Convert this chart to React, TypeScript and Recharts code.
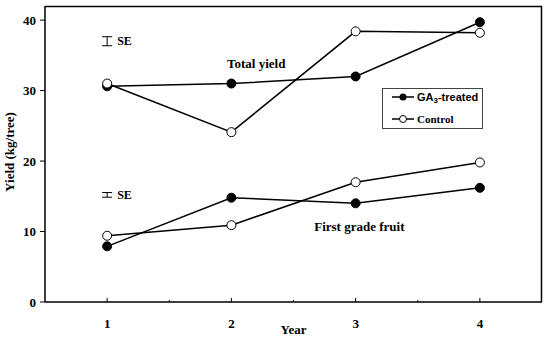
import {
  ComposedChart,
  Line,
  Scatter,
  ErrorBar,
  XAxis,
  YAxis,
  ReferenceDot,
} from "recharts";

// yield per tree (kg), by year
const years = [1, 2, 3, 4];
const totalGA3 = [30.6, 31.0, 32.0, 39.7];
const totalControl = [31.0, 24.1, 38.4, 38.2];
const firstGA3 = [7.9, 14.8, 14.0, 16.2];
const firstControl = [9.4, 10.9, 17.0, 19.8];

// standard error markers, drawn at year 1
const seLevels = [37.0, 15.2];
const seErrors = [0.64, 0.33];

const xTicks = [1, 1.5, 2, 2.5, 3, 3.5, 4];
const yTicks = [0, 10, 20, 30, 40];
const xDomain = [0.5, 4.5];
const yDomain = [0, 42];

const SERIF = '"Liberation Serif", "Times New Roman", serif';
const SANS = '"Liberation Sans", Arial, sans-serif';

const data = years.map((year, i) => ({
  year,
  totalGA3: totalGA3[i],
  totalControl: totalControl[i],
  firstGA3: firstGA3[i],
  firstControl: firstControl[i],
}));

const seData = seLevels.map((se, i) => ({ year: 1, se, err: seErrors[i] }));

const FilledDot = (props: any) => {
  const { cx, cy } = props;
  if (cx == null || cy == null) return null;
  return <circle cx={cx} cy={cy} r={4.5} fill="#000" stroke="#000" strokeWidth={1} />;
};

const OpenDot = (props: any) => {
  const { cx, cy } = props;
  if (cx == null || cy == null) return null;
  return <circle cx={cx} cy={cy} r={4.5} fill="#fff" stroke="#000" strokeWidth={1} />;
};

// inward ticks on the year axis, labels only on whole years
const YearTick = (props: any) => {
  const { x, y, payload } = props;
  const major = Number.isInteger(payload.value);
  return (
    <g>
      <line x1={x} y1={y} x2={x} y2={y - (major ? 4 : 2)} stroke="#000" strokeWidth={1} />
      {major && (
        <text x={x} y={y + 26} textAnchor="middle" fontFamily={SERIF} fontWeight="bold" fontSize={13} fill="#000">
          {payload.value}
        </text>
      )}
    </g>
  );
};

const lineProps = {
  type: "linear" as const,
  stroke: "#000",
  strokeWidth: 1.5,
  isAnimationActive: false,
  activeDot: false,
  legendType: "none" as const,
};

const noteLabel = (text: string, size = 13) => ({
  value: text,
  position: "center" as const,
  fontFamily: SERIF,
  fontWeight: "bold",
  fontSize: size,
  fill: "#000",
});

const frameLine = { stroke: "#000", strokeWidth: 1.5 };

export default function App() {
  return (
    <div style={{ position: "absolute", left: 0, top: 0, width: 547, height: 337, background: "#fff" }}>
      <ComposedChart width={547} height={337} data={data} margin={{ top: 6, right: 5, bottom: 0, left: 0 }}>
        <XAxis
          dataKey="year"
          type="number"
          domain={xDomain}
          ticks={xTicks}
          interval={0}
          height={35}
          tickSize={0}
          tickMargin={0}
          tickLine={false}
          axisLine={frameLine}
          tick={<YearTick />}
          label={{
            content: () => (
              <text x={293.5} y={334} textAnchor="middle" fontFamily={SERIF} fontWeight="bold" fontSize={13} fill="#000">
                Year
              </text>
            ),
          }}
        />
        <YAxis
          type="number"
          domain={yDomain}
          ticks={yTicks}
          width={45}
          tickSize={5}
          tickMargin={4}
          axisLine={frameLine}
          tickLine={{ stroke: "#000" }}
          tick={{ fontFamily: SERIF, fontWeight: "bold", fontSize: 13, fill: "#000" }}
          label={{
            content: () => (
              <text
                x={9}
                y={152}
                transform="rotate(-90 9 152)"
                textAnchor="middle"
                dominantBaseline="central"
                fontFamily={SERIF}
                fontWeight="bold"
                fontSize={13}
                fill="#000"
              >
                Yield (kg/tree)
              </text>
            ),
          }}
        />

        <Line {...lineProps} dataKey="totalGA3" dot={<FilledDot />} />
        <Line {...lineProps} dataKey="totalControl" dot={<OpenDot />} />
        <Line {...lineProps} dataKey="firstGA3" dot={<FilledDot />} />
        <Line {...lineProps} dataKey="firstControl" dot={<OpenDot />} />

        <Scatter data={seData} dataKey="se" shape={() => null} isAnimationActive={false} legendType="none">
          <ErrorBar dataKey="err" direction="y" width={5} stroke="#000" strokeWidth={1} isAnimationActive={false} />
        </Scatter>

        {seLevels.map((se) => (
          <ReferenceDot
            key={se}
            x={1}
            y={se}
            r={0}
            stroke="none"
            label={{ value: "SE", position: "right", offset: 10, fontFamily: SERIF, fontWeight: "bold", fontSize: 12, fill: "#000" }}
          />
        ))}

        <ReferenceDot x={2.2} y={33.8} r={0} stroke="none" label={noteLabel("Total yield")} />
        <ReferenceDot x={3.03} y={10.8} r={0} stroke="none" label={noteLabel("First grade fruit")} />
      </ComposedChart>

      {/* top and right edges of the plot frame */}
      <svg
        width={547}
        height={337}
        style={{ position: "absolute", left: 0, top: 0, pointerEvents: "none" }}
      >
        <polyline points="45,6.5 541.5,6.5 541.5,302" fill="none" stroke="#000" strokeWidth={1.5} />
      </svg>

      {/* series key */}
      <div
        style={{
          position: "absolute",
          left: 382,
          top: 88,
          width: 101,
          height: 41,
          boxSizing: "border-box",
          border: "1.5px solid #444",
          background: "#fff",
        }}
      >
        <svg width={101} height={41} style={{ position: "absolute", left: -1.5, top: -1.5 }}>
          <line x1={10} y1={9} x2={32} y2={9} stroke="#000" strokeWidth={1.5} />
          <circle cx={21} cy={9} r={3.5} fill="#000" />
          <text x={35} y={13} fontFamily={SANS} fontWeight="bold" fontSize={11} fill="#000">
            GA<tspan fontSize={8} dy={2}>3</tspan>
            <tspan dy={-2}>-treated</tspan>
          </text>
          <line x1={10} y1={31} x2={32} y2={31} stroke="#000" strokeWidth={1.5} />
          <circle cx={21} cy={31} r={3.5} fill="#fff" stroke="#000" strokeWidth={1} />
          <text x={35} y={35} fontFamily={SERIF} fontWeight="bold" fontSize={11} fill="#000">
            Control
          </text>
        </svg>
      </div>
    </div>
  );
}
